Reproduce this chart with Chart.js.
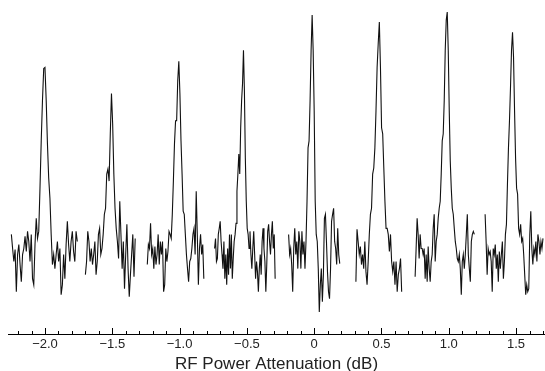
<!DOCTYPE html>
<html>
<head>
<meta charset="utf-8">
<script src="https://cdn.jsdelivr.net/npm/chart.js@4.4.1/dist/chart.umd.min.js"></script>
<style>
  html, body { margin: 0; padding: 0; background: #fff; }
  canvas { display: block; }
</style>
</head>
<body>
<canvas id="rfChart" width="545" height="371"></canvas>
<script>
// where each scan starts and stops on the attenuation axis (dB)
const scanStart = [-2.25, -1.70, -1.24, -0.74, -0.19, 0.31, 0.75, 1.27];
const scanEnd = [-1.76, -1.33, -0.82, -0.29, 0.19, 0.65, 1.19, 1.70];

// signal of each scan (arbitrary units)
const scan1 = [99, 85, 72, 84, 42, 79, 89, 69, 52, 79, 85, 97, 82, 102, 92, 72, 99, 55, 49, 89, 115, 95, 102, 145, 192, 232, 264, 265, 232, 189, 155, 135, 99, 69, 79, 65, 79, 92, 72, 85, 39, 49, 79, 55, 89, 112, 89, 72, 92, 102, 82, 72, 102, 92];
const scan2 = [59, 72, 102, 92, 72, 85, 69, 79, 92, 59, 72, 99, 105, 79, 85, 99, 119, 125, 159, 164, 152, 199, 239, 209, 159, 125, 105, 92, 75, 132, 99, 65, 92, 45, 79, 109, 65, 37, 59, 79, 99, 57, 95];
const scan3 = [69, 89, 85, 110, 79, 85, 65, 87, 69, 79, 99, 69, 92, 79, 92, 42, 49, 85, 72, 82, 102, 99, 95, 119, 152, 189, 212, 212, 252, 271, 239, 192, 159, 122, 119, 99, 79, 65, 52, 72, 75, 85, 99, 105, 79, 142, 99, 49, 85, 99, 79, 89, 55];
const scan4 = [85, 95, 72, 75, 99, 105, 112, 92, 79, 65, 92, 55, 79, 49, 85, 59, 99, 65, 99, 55, 75, 92, 99, 110, 142, 159, 179, 159, 205, 232, 249, 282, 242, 175, 132, 105, 99, 85, 102, 79, 65, 85, 102, 79, 55, 72, 62, 42, 65, 79, 59, 92, 105, 85, 72, 42, 69, 102, 109, 92, 79, 99, 112, 85, 99, 55];
const scan5 = [99, 79, 85, 69, 42, 85, 105, 79, 92, 65, 102, 92, 65, 102, 79, 92, 65, 92, 132, 185, 192, 232, 282, 317, 282, 222, 132, 99, 92, 65, 22, 49, 65, 32, 59, 115, 119, 92, 62, 42, 35, 65, 112, 119, 125, 92, 85, 69, 105, 79, 70];
const scan6 = [52, 104, 92, 79, 87, 69, 79, 65, 92, 62, 49, 72, 99, 119, 125, 159, 165, 185, 222, 265, 289, 310, 265, 205, 199, 165, 132, 105, 105, 99, 82, 99, 72, 62, 72, 49, 72, 42, 59, 65, 75, 42];
const scan7 = [57, 85, 115, 99, 75, 99, 85, 85, 79, 85, 55, 79, 52, 87, 65, 52, 72, 79, 105, 119, 72, 92, 99, 115, 125, 132, 159, 192, 199, 232, 282, 312, 320, 282, 222, 172, 145, 125, 119, 105, 92, 85, 75, 72, 79, 65, 39, 72, 79, 65, 79, 99, 119, 79, 65, 52, 92, 99, 102, 99];
const scan8 = [119, 92, 59, 85, 79, 82, 72, 42, 85, 79, 89, 65, 79, 52, 82, 65, 79, 92, 55, 72, 99, 109, 149, 185, 212, 245, 282, 300, 275, 222, 175, 145, 139, 105, 99, 109, 92, 95, 79, 59, 39, 49, 42, 45, 99, 122, 85, 69, 85, 79, 92, 72, 99, 92, 79, 92, 85, 95];

// labelled ticks on the x axis
const tickValues = [-2.0, -1.5, -1.0, -0.5, 0, 0.5, 1.0, 1.5];

const scans = [scan1, scan2, scan3, scan4, scan5, scan6, scan7, scan8];

// scans are evenly sampled between their start and end
function toPoints(values, x0, x1) {
  const step = (x1 - x0) / (values.length - 1);
  return values.map((v, i) => ({ x: x0 + i * step, y: v }));
}

const datasets = scans.map((values, i) => ({
  data: toPoints(values, scanStart[i], scanEnd[i]),
  borderColor: "#111",
  borderWidth: 1.1,
  pointRadius: 0,
  tension: 0,
  fill: false,
}));

// ticks pointing up from the axis line, minor every 0.1 dB
const innerTicks = {
  id: "innerTicks",
  afterDraw(chart) {
    const xs = chart.scales.x;
    const ctx = chart.ctx;
    const y0 = Math.round(xs.top);
    ctx.save();
    ctx.strokeStyle = "#000";
    ctx.lineWidth = 1;
    ctx.beginPath();
    for (let n = -22; n <= 17; n++) {
      const px = Math.round(xs.getPixelForValue(n / 10)) + 0.5;
      const len = n % 5 === 0 ? 6 : 3;
      ctx.moveTo(px, y0);
      ctx.lineTo(px, y0 - len);
    }
    ctx.stroke();
    ctx.restore();
  },
};

const ctx = document.getElementById("rfChart").getContext("2d");
new Chart(ctx, {
  type: "line",
  data: { datasets: datasets },
  plugins: [innerTicks],
  options: {
    responsive: false,
    animation: false,
    devicePixelRatio: 1,
    layout: { padding: { left: 8, right: 0, top: 0, bottom: -2 } },
    plugins: {
      legend: { display: false },
      tooltip: { enabled: false },
    },
    scales: {
      x: {
        type: "linear",
        min: -2.275,
        max: 1.715,
        grid: { display: false, drawTicks: false },
        border: { display: true, color: "#000", width: 1 },
        afterBuildTicks: (scale) => {
          scale.ticks = tickValues.map((v) => ({ value: v }));
        },
        ticks: {
          padding: 4,
          maxRotation: 0,
          autoSkip: false,
          color: "#222",
          font: { family: "'Liberation Sans', Arial, sans-serif", size: 13, lineHeight: 1 },
          callback: (v) => (v === 0 ? "0" : (v < 0 ? "\u2212" : "") + Math.abs(v).toFixed(1)),
        },
        title: {
          display: true,
          text: "RF Power Attenuation (dB)",
          color: "#222",
          font: { family: "'Liberation Sans', Arial, sans-serif", size: 17, lineHeight: 1 },
          padding: { top: 1, bottom: 0 },
        },
      },
      y: {
        display: false,
        min: 0,
        max: 332,
      },
    },
  },
});
</script>
</body>
</html>
